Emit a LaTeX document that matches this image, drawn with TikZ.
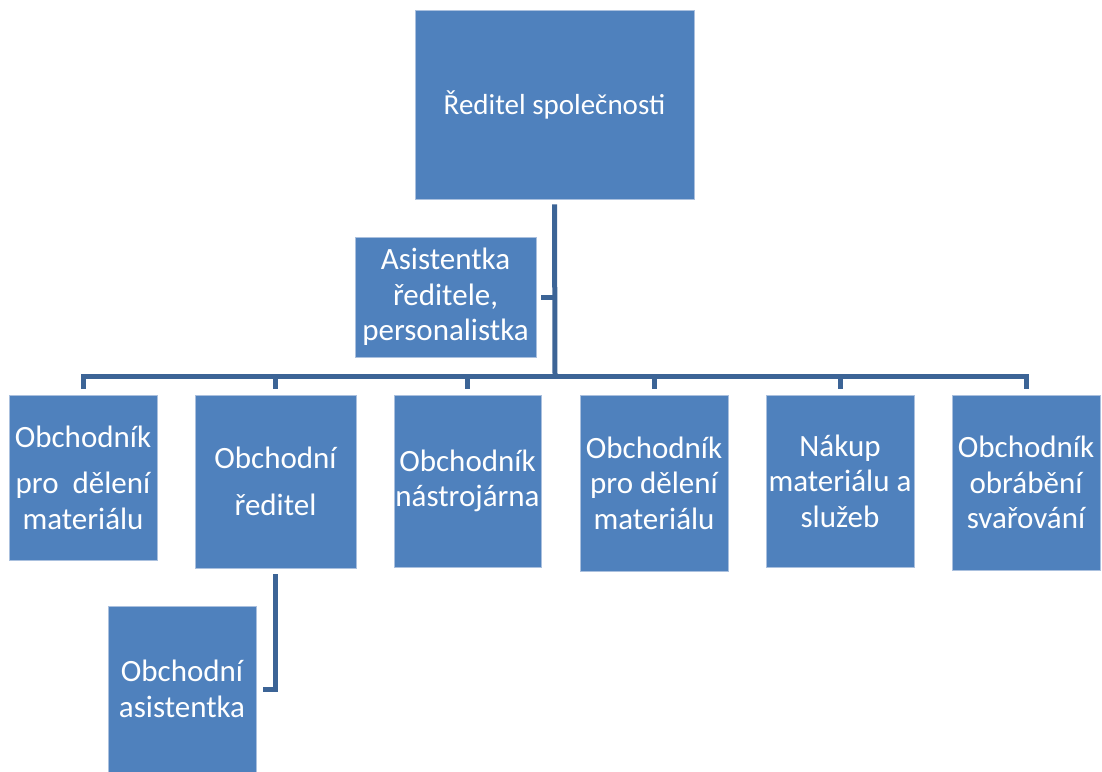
\documentclass[tikz,border=0pt]{standalone}
\usepackage{fontspec}
\setmainfont{Carlito}
\definecolor{boxblue}{RGB}{79,129,189}
\definecolor{boxedge}{RGB}{170,192,222}
\definecolor{connblue}{RGB}{60,100,150}
\tikzset{
  orgbox/.style={fill=boxblue, draw=boxedge, line width=0.8pt, text=white,
    align=center, inner sep=0pt, font=\fontsize{31}{35.5}\selectfont},
  conn/.style={draw=connblue, line width=5pt, line join=miter, line cap=butt}
}
\begin{document}
\begin{tikzpicture}[x=1pt,y=-1pt]
\useasboundingbox (0,0) rectangle (1102,771);
% top
\node[orgbox, minimum width=279pt, minimum height=189pt, font=\fontsize{29}{34}\selectfont] (top) at (554.5,104.5) {Ředitel společnosti};
\node[orgbox, minimum width=181pt, minimum height=120pt] (asst) at (445.5,297) {Asistentka\\ředitele,\\personalistka};
% children
\node[orgbox, minimum width=148pt, minimum height=165pt] (c1) at (83,477.5) {Obchodník\\[11pt]pro\ \ dělení\\materiálu};
\node[orgbox, minimum width=161pt, minimum height=173pt] (c2) at (275.5,481.5) {Obchodní\\[11pt]ředitel};
\node[orgbox, minimum width=147pt, minimum height=172pt] (c3) at (467.5,481) {Obchodník\\nástrojárna};
\node[orgbox, minimum width=148pt, minimum height=176pt] (c4) at (654,483) {Obchodník\\pro dělení\\materiálu};
\node[orgbox, minimum width=148pt, minimum height=172pt] (c5) at (840,481) {Nákup\\materiálu a\\služeb};
\node[orgbox, minimum width=148pt, minimum height=175pt] (c6) at (1026,482.5) {Obchodník\\obrábění\\svařování};
\node[orgbox, minimum width=148pt, minimum height=166pt] (oa) at (182,689) {Obchodní\\asistentka};
% connectors
\coordinate (bus) at (555,376);
\draw[conn] ([yshift=-5pt]top.south) -- (bus);
\draw[conn] ([xshift=5pt]asst.east) -- (asst.east -| bus);
\foreach \c in {c1,c2,c3,c4,c5,c6}{
  \draw[conn] (bus) -| ([yshift=5.5pt]\c.north);
}
\draw[conn] ([yshift=-6pt]c2.south) |- ([xshift=7pt]oa.east);
\end{tikzpicture}
\end{document}
